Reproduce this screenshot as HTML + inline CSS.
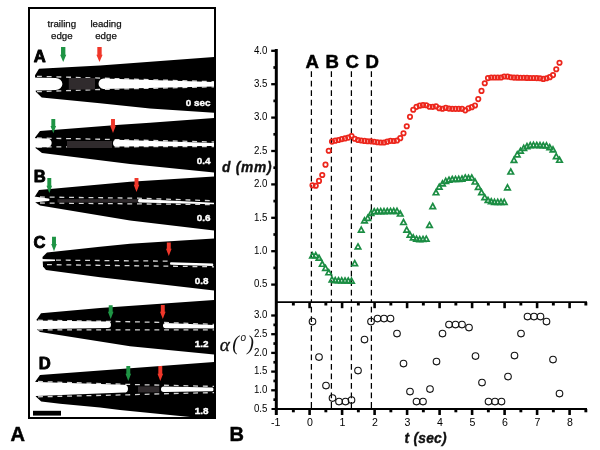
<!DOCTYPE html>
<html lang="en"><head><meta charset="utf-8"><title>Figure</title>
<style>html,body{margin:0;padding:0;background:#fff;}body{width:600px;height:450px;overflow:hidden;}svg{display:block;}text{font-family:"Liberation Sans",Arial,Helvetica,sans-serif;}</style>
</head><body>
<svg width="600" height="450" viewBox="0 0 600 450">
<rect x="0" y="0" width="600" height="450" fill="#ffffff"/>
<defs><clipPath id="fr"><rect x="30" y="9" width="184" height="408"/></clipPath></defs>
<g clip-path="url(#fr)">
<polygon fill="#000" points="35,75.3 39,68.7 100,65.5 214,57 216,57 216,112.8 214,112.8 150,108.6 100,103.3 41.7,97.5 35.8,91.8"/>
<polyline fill="none" points="37,76.3 100,78.1 214,81.7" stroke="#d4d4d4" stroke-width="1.3" stroke-dasharray="4.9 4.8"/>
<polyline fill="none" points="37,91.7 100,89.5 214,86.8" stroke="#d4d4d4" stroke-width="1.3" stroke-dasharray="4.9 4.8"/>
<path fill="#fff" d="M30,77.5L55.52,77.96A6.88,5.98 0 0 1 55.52,89.92L30,90.8Z"/>
<path fill="#fff" d="M103.54,78.48L214,82L216,82L216,86.4L214,86.4L103.54,88.95A5.24,5.24 0 0 1 103.54,78.48Z"/>
<rect x="68.8" y="78" width="26.2" height="11.5" fill="#302b2d"/>
<polygon fill="#000" points="35,137.5 40,131 120,124.8 150,122.8 214,118 216,118 216,172.6 214,172.6 130,164.1 100,160.2 42,153 35.5,148"/>
<polyline fill="none" points="37,138 113,139.5 214,142" stroke="#d4d4d4" stroke-width="1.3" stroke-dasharray="4.9 4.8"/>
<polyline fill="none" points="37,147 214,146.5" stroke="#d4d4d4" stroke-width="1.3" stroke-dasharray="4.9 4.8"/>
<path fill="#fff" d="M30,138L47.32,138.47A4.38,4.38 0 0 1 47.32,147.24L30,147.5Z"/>
<path fill="#fff" d="M116.35,139.8L214,143L216,143L216,146L214,146L116.35,146.5A3.35,3.35 0 0 1 116.35,139.8Z"/>
<rect x="67" y="141" width="45" height="7" fill="#302b2d"/>
<polygon fill="#000" points="35,196.3 39,190 130,181.8 214,176.4 216,176.4 216,230.6 214,230.6 130,220.4 40,205.5 35.5,202.6"/>
<polyline fill="none" points="40,197 138,198.2 214,200.8" stroke="#d4d4d4" stroke-width="1.3" stroke-dasharray="4.9 4.8"/>
<polyline fill="none" points="40,203 214,204.6" stroke="#d4d4d4" stroke-width="1.3" stroke-dasharray="4.9 4.8"/>
<path fill="#fff" d="M30,196L36,196.8L48.2,198.4A1.3,1.3 0 0 1 48.2,201.01L36,202.3L30,203Z"/>
<path fill="#fff" d="M139.05,199L214,202.7L216,202.7L216,204.2L214,204.2L139.05,202.5A1.05,1.75 0 0 1 139.05,199Z"/>
<rect x="57.5" y="199.2" width="80.5" height="3.3" fill="#302b2d"/>
<polygon fill="#000" points="42.5,257 47,252.5 100,246.8 130,243.8 214,238.6 216,238.6 216,290.5 214,290.5 100,277.3 46,270 43,266.5"/>
<polyline fill="none" points="56,260.1 172,261.2" stroke="#d4d4d4" stroke-width="1.3" stroke-dasharray="4.9 4.8"/>
<polyline fill="none" points="47,264.6 214,266.8" stroke="#d4d4d4" stroke-width="1.3" stroke-dasharray="4.9 4.8"/>
<path fill="#fff" d="M171,262.2L212.3,263.58A1,1.25 0 0 1 212.3,266.08L171,264.7A1,1.25 0 0 1 171,262.2Z"/>
<path fill="#fff" d="M42,259L55,259.5L55,261L42,261.6Z"/>
<polygon fill="#000" points="36.7,319.5 41,313.3 100,308 214,300 216,300 216,354.4 214,354.4 130,346.2 40,332 37.5,330"/>
<polyline fill="none" points="38,320.2 111,321.4 163,322.4 214,324.4" stroke="#d4d4d4" stroke-width="1.3" stroke-dasharray="4.9 4.8"/>
<polyline fill="none" points="38,329.8 214,329.8" stroke="#d4d4d4" stroke-width="1.3" stroke-dasharray="4.9 4.8"/>
<path fill="#fff" d="M30,320.6L107.8,321.6A3.2,3.2 0 0 1 107.8,328L30,329.2Z"/>
<path fill="#fff" d="M165.6,323L214,325L216,325L216,328.4L214,328.4L165.6,328.2A2.6,2.6 0 0 1 165.6,323Z"/>
<polygon fill="#000" points="35.3,381.6 40,375 214,362 216,362 216,420 214,420 190,417 120,409.9 100,407.6 60,403.7 41.2,401.6 35.8,396.6"/>
<polyline fill="none" points="38,381.5 128,384.4 214,386.4" stroke="#d4d4d4" stroke-width="1.3" stroke-dasharray="4.9 4.8"/>
<polyline fill="none" points="38,396.8 128,394.8 161,393.8 214,392.6" stroke="#d4d4d4" stroke-width="1.3" stroke-dasharray="4.9 4.8"/>
<path fill="#fff" d="M30,381.8L124.1,384.8A3.9,3.9 0 0 1 124.1,392.6L30,396.2Z"/>
<path fill="#fff" d="M163.75,386.5L212.38,387.49A1.12,1.86 0 0 1 212.38,391.21L163.75,392A2.75,2.75 0 0 1 163.75,386.5Z"/>
<rect x="138" y="386.4" width="21.2" height="6" fill="#302b2d"/>
</g>
<rect x="29" y="8" width="186" height="410" fill="none" stroke="#000" stroke-width="2"/>
<rect x="33" y="410.8" width="28" height="4.8" fill="#000"/>
<polygon fill="#1e9444" points="61.03,47 65.37,47 65.37,54.8 66.3,54.8 63.2,62 60.1,54.8 61.03,54.8"/>
<polygon fill="#f0372a" points="97.33,47 101.67,47 101.67,54.8 102.6,54.8 99.5,62 96.4,54.8 97.33,54.8"/>
<polygon fill="#1e9444" points="51.34,119 55.26,119 55.26,126 56.1,126 53.3,133.2 50.5,126 51.34,126"/>
<polygon fill="#f0372a" points="111.04,119 114.96,119 114.96,125.8 115.8,125.8 113,133 110.2,125.8 111.04,125.8"/>
<polygon fill="#1e9444" points="47.34,178 51.26,178 51.26,185.8 52.1,185.8 49.3,193 46.5,185.8 47.34,185.8"/>
<polygon fill="#f0372a" points="134.54,178 138.46,178 138.46,184.8 139.3,184.8 136.5,192 133.7,184.8 134.54,184.8"/>
<polygon fill="#1e9444" points="52.04,236.7 55.96,236.7 55.96,244.1 56.8,244.1 54,251.3 51.2,244.1 52.04,244.1"/>
<polygon fill="#f0372a" points="166.84,242.4 170.76,242.4 170.76,248.8 171.6,248.8 168.8,256 166,248.8 166.84,248.8"/>
<polygon fill="#1e9444" points="108.74,305.3 112.66,305.3 112.66,311.8 113.5,311.8 110.7,319 107.9,311.8 108.74,311.8"/>
<polygon fill="#f0372a" points="160.84,305 164.76,305 164.76,311.8 165.6,311.8 162.8,319 160,311.8 160.84,311.8"/>
<polygon fill="#1e9444" points="126.34,366 130.26,366 130.26,373.8 131.1,373.8 128.3,381 125.5,373.8 126.34,373.8"/>
<polygon fill="#f0372a" points="158.34,366 162.26,366 162.26,373.8 163.1,373.8 160.3,381 157.5,373.8 158.34,373.8"/>
<text x="61.8" y="27.3" font-size="9.7" font-weight="normal" font-style="normal" fill="#111" text-anchor="middle" stroke="#111" stroke-width="0.25">trailing</text>
<text x="61.8" y="39" font-size="9.7" font-weight="normal" font-style="normal" fill="#111" text-anchor="middle" stroke="#111" stroke-width="0.25">edge</text>
<text x="106" y="27.3" font-size="9.7" font-weight="normal" font-style="normal" fill="#111" text-anchor="middle" stroke="#111" stroke-width="0.25">leading</text>
<text x="106" y="39" font-size="9.7" font-weight="normal" font-style="normal" fill="#111" text-anchor="middle" stroke="#111" stroke-width="0.25">edge</text>
<text x="33.7" y="62.3" font-size="16.6" font-weight="bold" font-style="normal" fill="#000" text-anchor="start" stroke="#000" stroke-width="0.9" stroke-linejoin="round">A</text>
<text x="33.7" y="182.3" font-size="16.6" font-weight="bold" font-style="normal" fill="#000" text-anchor="start" stroke="#000" stroke-width="0.9" stroke-linejoin="round">B</text>
<text x="33.6" y="247.9" font-size="16.6" font-weight="bold" font-style="normal" fill="#000" text-anchor="start" stroke="#000" stroke-width="0.9" stroke-linejoin="round">C</text>
<text x="38.8" y="368.9" font-size="16.6" font-weight="bold" font-style="normal" fill="#000" text-anchor="start" stroke="#000" stroke-width="0.9" stroke-linejoin="round">D</text>
<text x="210.5" y="105.6" font-size="9.9" font-weight="bold" font-style="normal" fill="#fff" text-anchor="end" stroke="#fff" stroke-width="0.4">0 sec</text>
<text x="210.5" y="164" font-size="9.9" font-weight="bold" font-style="normal" fill="#fff" text-anchor="end" stroke="#fff" stroke-width="0.4">0.4</text>
<text x="210.5" y="221.2" font-size="9.9" font-weight="bold" font-style="normal" fill="#fff" text-anchor="end" stroke="#fff" stroke-width="0.4">0.6</text>
<text x="208.5" y="283.6" font-size="9.9" font-weight="bold" font-style="normal" fill="#fff" text-anchor="end" stroke="#fff" stroke-width="0.4">0.8</text>
<text x="208.5" y="347" font-size="9.9" font-weight="bold" font-style="normal" fill="#fff" text-anchor="end" stroke="#fff" stroke-width="0.4">1.2</text>
<text x="208.5" y="413.6" font-size="9.9" font-weight="bold" font-style="normal" fill="#fff" text-anchor="end" stroke="#fff" stroke-width="0.4">1.8</text>
<text x="10.4" y="440.5" font-size="20" font-weight="bold" font-style="normal" fill="#000" text-anchor="start" stroke="#000" stroke-width="0.5">A</text>
<text x="229.4" y="440.5" font-size="20" font-weight="bold" font-style="normal" fill="#000" text-anchor="start" stroke="#000" stroke-width="0.5">B</text>
<line x1="276.3" y1="49" x2="276.3" y2="415" stroke="#000" stroke-width="3"/>
<line x1="275" y1="302.2" x2="587" y2="302.2" stroke="#000" stroke-width="1.8"/>
<line x1="271.5" y1="409" x2="587" y2="409" stroke="#000" stroke-width="2"/>
<line x1="271.2" y1="284.6" x2="276.3" y2="284.6" stroke="#000" stroke-width="2.3"/>
<text transform="translate(267.4,287.4) scale(0.9,1)" font-size="10.8" font-weight="normal" font-style="normal" fill="#000" text-anchor="end">0.5</text>
<line x1="273.4" y1="267.9" x2="276.3" y2="267.9" stroke="#000" stroke-width="2.7"/>
<line x1="271.2" y1="251.2" x2="276.3" y2="251.2" stroke="#000" stroke-width="2.3"/>
<text transform="translate(267.4,254) scale(0.9,1)" font-size="10.8" font-weight="normal" font-style="normal" fill="#000" text-anchor="end">1.0</text>
<line x1="273.4" y1="234.5" x2="276.3" y2="234.5" stroke="#000" stroke-width="2.7"/>
<line x1="271.2" y1="217.8" x2="276.3" y2="217.8" stroke="#000" stroke-width="2.3"/>
<text transform="translate(267.4,220.6) scale(0.9,1)" font-size="10.8" font-weight="normal" font-style="normal" fill="#000" text-anchor="end">1.5</text>
<line x1="273.4" y1="201.1" x2="276.3" y2="201.1" stroke="#000" stroke-width="2.7"/>
<line x1="271.2" y1="184.4" x2="276.3" y2="184.4" stroke="#000" stroke-width="2.3"/>
<text transform="translate(267.4,187.2) scale(0.9,1)" font-size="10.8" font-weight="normal" font-style="normal" fill="#000" text-anchor="end">2.0</text>
<line x1="273.4" y1="167.7" x2="276.3" y2="167.7" stroke="#000" stroke-width="2.7"/>
<line x1="271.2" y1="151" x2="276.3" y2="151" stroke="#000" stroke-width="2.3"/>
<text transform="translate(267.4,153.8) scale(0.9,1)" font-size="10.8" font-weight="normal" font-style="normal" fill="#000" text-anchor="end">2.5</text>
<line x1="273.4" y1="134.3" x2="276.3" y2="134.3" stroke="#000" stroke-width="2.7"/>
<line x1="271.2" y1="117.6" x2="276.3" y2="117.6" stroke="#000" stroke-width="2.3"/>
<text transform="translate(267.4,120.4) scale(0.9,1)" font-size="10.8" font-weight="normal" font-style="normal" fill="#000" text-anchor="end">3.0</text>
<line x1="273.4" y1="100.9" x2="276.3" y2="100.9" stroke="#000" stroke-width="2.7"/>
<line x1="271.2" y1="84.2" x2="276.3" y2="84.2" stroke="#000" stroke-width="2.3"/>
<text transform="translate(267.4,87) scale(0.9,1)" font-size="10.8" font-weight="normal" font-style="normal" fill="#000" text-anchor="end">3.5</text>
<line x1="273.4" y1="67.5" x2="276.3" y2="67.5" stroke="#000" stroke-width="2.7"/>
<line x1="271.2" y1="50.8" x2="276.3" y2="50.8" stroke="#000" stroke-width="2.3"/>
<text transform="translate(267.4,53.6) scale(0.9,1)" font-size="10.8" font-weight="normal" font-style="normal" fill="#000" text-anchor="end">4.0</text>
<text transform="translate(267.4,411.7) scale(0.9,1)" font-size="10.8" font-weight="normal" font-style="normal" fill="#000" text-anchor="end">0.5</text>
<line x1="273.4" y1="399.65" x2="276.3" y2="399.65" stroke="#000" stroke-width="2.7"/>
<line x1="271.2" y1="390.3" x2="276.3" y2="390.3" stroke="#000" stroke-width="2.3"/>
<text transform="translate(267.4,393) scale(0.9,1)" font-size="10.8" font-weight="normal" font-style="normal" fill="#000" text-anchor="end">1.0</text>
<line x1="273.4" y1="380.95" x2="276.3" y2="380.95" stroke="#000" stroke-width="2.7"/>
<line x1="271.2" y1="371.6" x2="276.3" y2="371.6" stroke="#000" stroke-width="2.3"/>
<text transform="translate(267.4,374.3) scale(0.9,1)" font-size="10.8" font-weight="normal" font-style="normal" fill="#000" text-anchor="end">1.5</text>
<line x1="273.4" y1="362.25" x2="276.3" y2="362.25" stroke="#000" stroke-width="2.7"/>
<line x1="271.2" y1="352.9" x2="276.3" y2="352.9" stroke="#000" stroke-width="2.3"/>
<text transform="translate(267.4,355.6) scale(0.9,1)" font-size="10.8" font-weight="normal" font-style="normal" fill="#000" text-anchor="end">2.0</text>
<line x1="273.4" y1="343.55" x2="276.3" y2="343.55" stroke="#000" stroke-width="2.7"/>
<line x1="271.2" y1="334.2" x2="276.3" y2="334.2" stroke="#000" stroke-width="2.3"/>
<text transform="translate(267.4,336.9) scale(0.9,1)" font-size="10.8" font-weight="normal" font-style="normal" fill="#000" text-anchor="end">2.5</text>
<line x1="273.4" y1="324.85" x2="276.3" y2="324.85" stroke="#000" stroke-width="2.7"/>
<line x1="271.2" y1="315.5" x2="276.3" y2="315.5" stroke="#000" stroke-width="2.3"/>
<text transform="translate(267.4,318.2) scale(0.9,1)" font-size="10.8" font-weight="normal" font-style="normal" fill="#000" text-anchor="end">3.0</text>
<text transform="translate(275.7,426.1) scale(0.93,1)" font-size="11.4" font-weight="normal" font-style="normal" fill="#000" text-anchor="middle">-1</text>
<line x1="293.35" y1="409" x2="293.35" y2="412.3" stroke="#000" stroke-width="2.9"/>
<line x1="293.35" y1="302.2" x2="293.35" y2="305.5" stroke="#000" stroke-width="2.9"/>
<line x1="309.6" y1="409" x2="309.6" y2="415" stroke="#000" stroke-width="2.6"/>
<line x1="309.6" y1="302.2" x2="309.6" y2="308.2" stroke="#000" stroke-width="2.6"/>
<text transform="translate(309.9,426.1) scale(0.93,1)" font-size="11.4" font-weight="normal" font-style="normal" fill="#000" text-anchor="middle">0</text>
<line x1="325.85" y1="409" x2="325.85" y2="412.3" stroke="#000" stroke-width="2.9"/>
<line x1="325.85" y1="302.2" x2="325.85" y2="305.5" stroke="#000" stroke-width="2.9"/>
<line x1="342.1" y1="409" x2="342.1" y2="415" stroke="#000" stroke-width="2.6"/>
<line x1="342.1" y1="302.2" x2="342.1" y2="308.2" stroke="#000" stroke-width="2.6"/>
<text transform="translate(342.4,426.1) scale(0.93,1)" font-size="11.4" font-weight="normal" font-style="normal" fill="#000" text-anchor="middle">1</text>
<line x1="358.35" y1="409" x2="358.35" y2="412.3" stroke="#000" stroke-width="2.9"/>
<line x1="358.35" y1="302.2" x2="358.35" y2="305.5" stroke="#000" stroke-width="2.9"/>
<line x1="374.6" y1="409" x2="374.6" y2="415" stroke="#000" stroke-width="2.6"/>
<line x1="374.6" y1="302.2" x2="374.6" y2="308.2" stroke="#000" stroke-width="2.6"/>
<text transform="translate(374.9,426.1) scale(0.93,1)" font-size="11.4" font-weight="normal" font-style="normal" fill="#000" text-anchor="middle">2</text>
<line x1="390.85" y1="409" x2="390.85" y2="412.3" stroke="#000" stroke-width="2.9"/>
<line x1="390.85" y1="302.2" x2="390.85" y2="305.5" stroke="#000" stroke-width="2.9"/>
<line x1="407.1" y1="409" x2="407.1" y2="415" stroke="#000" stroke-width="2.6"/>
<line x1="407.1" y1="302.2" x2="407.1" y2="308.2" stroke="#000" stroke-width="2.6"/>
<text transform="translate(407.4,426.1) scale(0.93,1)" font-size="11.4" font-weight="normal" font-style="normal" fill="#000" text-anchor="middle">3</text>
<line x1="423.35" y1="409" x2="423.35" y2="412.3" stroke="#000" stroke-width="2.9"/>
<line x1="423.35" y1="302.2" x2="423.35" y2="305.5" stroke="#000" stroke-width="2.9"/>
<line x1="439.6" y1="409" x2="439.6" y2="415" stroke="#000" stroke-width="2.6"/>
<line x1="439.6" y1="302.2" x2="439.6" y2="308.2" stroke="#000" stroke-width="2.6"/>
<text transform="translate(439.9,426.1) scale(0.93,1)" font-size="11.4" font-weight="normal" font-style="normal" fill="#000" text-anchor="middle">4</text>
<line x1="455.85" y1="409" x2="455.85" y2="412.3" stroke="#000" stroke-width="2.9"/>
<line x1="455.85" y1="302.2" x2="455.85" y2="305.5" stroke="#000" stroke-width="2.9"/>
<line x1="472.1" y1="409" x2="472.1" y2="415" stroke="#000" stroke-width="2.6"/>
<line x1="472.1" y1="302.2" x2="472.1" y2="308.2" stroke="#000" stroke-width="2.6"/>
<text transform="translate(472.4,426.1) scale(0.93,1)" font-size="11.4" font-weight="normal" font-style="normal" fill="#000" text-anchor="middle">5</text>
<line x1="488.35" y1="409" x2="488.35" y2="412.3" stroke="#000" stroke-width="2.9"/>
<line x1="488.35" y1="302.2" x2="488.35" y2="305.5" stroke="#000" stroke-width="2.9"/>
<line x1="504.6" y1="409" x2="504.6" y2="415" stroke="#000" stroke-width="2.6"/>
<line x1="504.6" y1="302.2" x2="504.6" y2="308.2" stroke="#000" stroke-width="2.6"/>
<text transform="translate(504.9,426.1) scale(0.93,1)" font-size="11.4" font-weight="normal" font-style="normal" fill="#000" text-anchor="middle">6</text>
<line x1="520.85" y1="409" x2="520.85" y2="412.3" stroke="#000" stroke-width="2.9"/>
<line x1="520.85" y1="302.2" x2="520.85" y2="305.5" stroke="#000" stroke-width="2.9"/>
<line x1="537.1" y1="409" x2="537.1" y2="415" stroke="#000" stroke-width="2.6"/>
<line x1="537.1" y1="302.2" x2="537.1" y2="308.2" stroke="#000" stroke-width="2.6"/>
<text transform="translate(537.4,426.1) scale(0.93,1)" font-size="11.4" font-weight="normal" font-style="normal" fill="#000" text-anchor="middle">7</text>
<line x1="553.35" y1="409" x2="553.35" y2="412.3" stroke="#000" stroke-width="2.9"/>
<line x1="553.35" y1="302.2" x2="553.35" y2="305.5" stroke="#000" stroke-width="2.9"/>
<line x1="569.6" y1="409" x2="569.6" y2="415" stroke="#000" stroke-width="2.6"/>
<line x1="569.6" y1="302.2" x2="569.6" y2="308.2" stroke="#000" stroke-width="2.6"/>
<text transform="translate(569.9,426.1) scale(0.93,1)" font-size="11.4" font-weight="normal" font-style="normal" fill="#000" text-anchor="middle">8</text>
<line x1="585.85" y1="409" x2="585.85" y2="412.3" stroke="#000" stroke-width="2.9"/>
<line x1="585.85" y1="302.2" x2="585.85" y2="305.5" stroke="#000" stroke-width="2.9"/>
<text x="221.9" y="171.6" font-size="13.8" font-weight="bold" font-style="italic" fill="#111" text-anchor="start" stroke="#111" stroke-width="0.35" letter-spacing="0.75">d (mm)</text>
<text x="404.5" y="443" font-size="13.9" font-weight="bold" font-style="italic" fill="#111" text-anchor="start" stroke="#111" stroke-width="0.35" letter-spacing="0.2">t (sec)</text>
<text x="219.8" y="350.6" font-size="19.2" font-style="italic" fill="#111" stroke="#111" stroke-width="0.3" style="font-family:'Liberation Serif','DejaVu Serif',serif">α</text>
<text x="232.2" y="349.9" font-size="20" font-style="italic" fill="#111" style="font-family:'Liberation Serif','DejaVu Serif',serif">(</text>
<text x="240.4" y="341.1" font-size="10" font-style="italic" fill="#111">o</text>
<text x="247.2" y="349.9" font-size="20" font-style="italic" fill="#111" style="font-family:'Liberation Serif','DejaVu Serif',serif">)</text>
<line x1="311.4" y1="71.3" x2="311.4" y2="302" stroke="#000" stroke-width="1.25" stroke-dasharray="5.8 3.7"/>
<line x1="311.4" y1="302" x2="311.4" y2="409" stroke="#000" stroke-width="1.25" stroke-dasharray="5.8 3.74" stroke-dashoffset="4.84"/>
<text x="312.2" y="68" font-size="18.6" font-weight="bold" font-style="normal" fill="#000" text-anchor="middle" stroke="#000" stroke-width="0.5">A</text>
<line x1="331.4" y1="71.3" x2="331.4" y2="302" stroke="#000" stroke-width="1.25" stroke-dasharray="5.8 3.7"/>
<line x1="331.4" y1="302" x2="331.4" y2="409" stroke="#000" stroke-width="1.25" stroke-dasharray="5.8 3.74" stroke-dashoffset="4.84"/>
<text x="332.2" y="68" font-size="18.6" font-weight="bold" font-style="normal" fill="#000" text-anchor="middle" stroke="#000" stroke-width="0.5">B</text>
<line x1="351.4" y1="71.3" x2="351.4" y2="302" stroke="#000" stroke-width="1.25" stroke-dasharray="5.8 3.7"/>
<line x1="351.4" y1="302" x2="351.4" y2="409" stroke="#000" stroke-width="1.25" stroke-dasharray="5.8 3.74" stroke-dashoffset="4.84"/>
<text x="352.2" y="68" font-size="18.6" font-weight="bold" font-style="normal" fill="#000" text-anchor="middle" stroke="#000" stroke-width="0.5">C</text>
<line x1="371.4" y1="71.3" x2="371.4" y2="302" stroke="#000" stroke-width="1.25" stroke-dasharray="5.8 3.7"/>
<line x1="371.4" y1="302" x2="371.4" y2="409" stroke="#000" stroke-width="1.25" stroke-dasharray="5.8 3.74" stroke-dashoffset="4.84"/>
<text x="372.2" y="68" font-size="18.6" font-weight="bold" font-style="normal" fill="#000" text-anchor="middle" stroke="#000" stroke-width="0.5">D</text>
<g fill="none" stroke="#ec261c" stroke-width="1.75">
<circle cx="312.5" cy="185.36" r="2.2"/>
<circle cx="315.75" cy="185.77" r="2.2"/>
<circle cx="319" cy="180.9" r="2.2"/>
<circle cx="322.25" cy="174.97" r="2.2"/>
<circle cx="325.5" cy="164.63" r="2.2"/>
<circle cx="328.75" cy="150.71" r="2.2"/>
<circle cx="332" cy="141.57" r="2.2"/>
<circle cx="335.25" cy="140.65" r="2.2"/>
<circle cx="338.5" cy="140" r="2.2"/>
<circle cx="341.75" cy="139.12" r="2.2"/>
<circle cx="345" cy="138.43" r="2.2"/>
<circle cx="348.25" cy="137.55" r="2.2"/>
<circle cx="351.5" cy="135.95" r="2.2"/>
<circle cx="354.75" cy="138.7" r="2.2"/>
<circle cx="358" cy="140.03" r="2.2"/>
<circle cx="361.25" cy="140.47" r="2.2"/>
<circle cx="364.5" cy="140.9" r="2.2"/>
<circle cx="367.75" cy="141.22" r="2.2"/>
<circle cx="371" cy="141.3" r="2.2"/>
<circle cx="374.25" cy="141.75" r="2.2"/>
<circle cx="377.5" cy="142.23" r="2.2"/>
<circle cx="380.75" cy="142.48" r="2.2"/>
<circle cx="384" cy="142.5" r="2.2"/>
<circle cx="387.25" cy="141.68" r="2.2"/>
<circle cx="390.5" cy="140.84" r="2.2"/>
<circle cx="393.75" cy="140.95" r="2.2"/>
<circle cx="397" cy="140.5" r="2.2"/>
<circle cx="400.25" cy="138.14" r="2.2"/>
<circle cx="403.5" cy="133.25" r="2.2"/>
<circle cx="406.75" cy="126.22" r="2.2"/>
<circle cx="410" cy="116.84" r="2.2"/>
<circle cx="413.25" cy="109.75" r="2.2"/>
<circle cx="416.5" cy="106.8" r="2.2"/>
<circle cx="419.75" cy="105.66" r="2.2"/>
<circle cx="423" cy="105.1" r="2.2"/>
<circle cx="426.25" cy="105.22" r="2.2"/>
<circle cx="429.5" cy="106.75" r="2.2"/>
<circle cx="432.75" cy="106.8" r="2.2"/>
<circle cx="436" cy="106.33" r="2.2"/>
<circle cx="439.25" cy="108.21" r="2.2"/>
<circle cx="442.5" cy="108.76" r="2.2"/>
<circle cx="445.75" cy="107.88" r="2.2"/>
<circle cx="449" cy="108.61" r="2.2"/>
<circle cx="452.25" cy="108.8" r="2.2"/>
<circle cx="455.5" cy="108.8" r="2.2"/>
<circle cx="458.75" cy="108.8" r="2.2"/>
<circle cx="462" cy="108.8" r="2.2"/>
<circle cx="465.25" cy="110.33" r="2.2"/>
<circle cx="468.5" cy="108.3" r="2.2"/>
<circle cx="471.75" cy="107.18" r="2.2"/>
<circle cx="475" cy="105.51" r="2.2"/>
<circle cx="478.25" cy="99.07" r="2.2"/>
<circle cx="481.5" cy="90.9" r="2.2"/>
<circle cx="484.75" cy="83.21" r="2.2"/>
<circle cx="488" cy="78.11" r="2.2"/>
<circle cx="491.25" cy="77.5" r="2.2"/>
<circle cx="494.5" cy="77.5" r="2.2"/>
<circle cx="497.75" cy="77.5" r="2.2"/>
<circle cx="501" cy="77.5" r="2.2"/>
<circle cx="504.25" cy="76.54" r="2.2"/>
<circle cx="507.5" cy="76.57" r="2.2"/>
<circle cx="510.75" cy="77.29" r="2.2"/>
<circle cx="514" cy="77.55" r="2.2"/>
<circle cx="517.25" cy="77.63" r="2.2"/>
<circle cx="520.5" cy="77.71" r="2.2"/>
<circle cx="523.75" cy="77.79" r="2.2"/>
<circle cx="527" cy="77.88" r="2.2"/>
<circle cx="530.25" cy="77.96" r="2.2"/>
<circle cx="533.5" cy="78.04" r="2.2"/>
<circle cx="536.75" cy="78.12" r="2.2"/>
<circle cx="540" cy="78.2" r="2.2"/>
<circle cx="543.25" cy="78.89" r="2.2"/>
<circle cx="546.5" cy="78.29" r="2.2"/>
<circle cx="549.75" cy="77.17" r="2.2"/>
<circle cx="553" cy="75.07" r="2.2"/>
<circle cx="556.25" cy="69.29" r="2.2"/>
<circle cx="559.5" cy="62.71" r="2.2"/>
</g>
<g fill="none" stroke="#1b8d43" stroke-width="1.7" stroke-linejoin="miter">
<path d="M312.5,252.81L315.25,257.81L309.75,257.81Z"/>
<path d="M315.75,252.6L318.5,257.6L313,257.6Z"/>
<path d="M319,255.2L321.75,260.2L316.25,260.2Z"/>
<path d="M322.25,261.26L325,266.26L319.5,266.26Z"/>
<path d="M325.5,265.4L328.25,270.4L322.75,270.4Z"/>
<path d="M328.75,269.73L331.5,274.73L326,274.73Z"/>
<path d="M332,276.79L334.75,281.79L329.25,281.79Z"/>
<path d="M335.25,277.63L338,282.63L332.5,282.63Z"/>
<path d="M338.5,277.72L341.25,282.72L335.75,282.72Z"/>
<path d="M341.75,277.81L344.5,282.81L339,282.81Z"/>
<path d="M345,277.9L347.75,282.9L342.25,282.9Z"/>
<path d="M348.25,277.98L351,282.98L345.5,282.98Z"/>
<path d="M351.5,278.07L354.25,283.07L348.75,283.07Z"/>
<path d="M354.75,260.63L357.5,265.63L352,265.63Z"/>
<path d="M358,243.9L360.75,248.9L355.25,248.9Z"/>
<path d="M361.25,227.11L364,232.11L358.5,232.11Z"/>
<path d="M364.5,217.82L367.25,222.82L361.75,222.82Z"/>
<path d="M367.75,215.29L370.5,220.29L365,220.29Z"/>
<path d="M371,210.4L373.75,215.4L368.25,215.4Z"/>
<path d="M374.25,208.77L377,213.77L371.5,213.77Z"/>
<path d="M377.5,208.7L380.25,213.7L374.75,213.7Z"/>
<path d="M380.75,208.63L383.5,213.63L378,213.63Z"/>
<path d="M384,208.57L386.75,213.57L381.25,213.57Z"/>
<path d="M387.25,208.5L390,213.5L384.5,213.5Z"/>
<path d="M390.5,208.43L393.25,213.43L387.75,213.43Z"/>
<path d="M393.75,208.37L396.5,213.37L391,213.37Z"/>
<path d="M397,208.3L399.75,213.3L394.25,213.3Z"/>
<path d="M400.25,211L403,216L397.5,216Z"/>
<path d="M403.5,219.5L406.25,224.5L400.75,224.5Z"/>
<path d="M406.75,227.1L409.5,232.1L404,232.1Z"/>
<path d="M410,232.1L412.75,237.1L407.25,237.1Z"/>
<path d="M413.25,234.8L416,239.8L410.5,239.8Z"/>
<path d="M416.5,236.2L419.25,241.2L413.75,241.2Z"/>
<path d="M419.75,236.6L422.5,241.6L417,241.6Z"/>
<path d="M423,236.4L425.75,241.4L420.25,241.4Z"/>
<path d="M426.25,236.2L429,241.2L423.5,241.2Z"/>
<path d="M429.5,222.42L432.25,227.42L426.75,227.42Z"/>
<path d="M432.75,203.53L435.5,208.53L430,208.53Z"/>
<path d="M436,189.73L438.75,194.73L433.25,194.73Z"/>
<path d="M439.25,184.19L442,189.19L436.5,189.19Z"/>
<path d="M442.5,180.8L445.25,185.8L439.75,185.8Z"/>
<path d="M445.75,178.3L448.5,183.3L443,183.3Z"/>
<path d="M449,177.15L451.75,182.15L446.25,182.15Z"/>
<path d="M452.25,176.49L455,181.49L449.5,181.49Z"/>
<path d="M455.5,176.39L458.25,181.39L452.75,181.39Z"/>
<path d="M458.75,176.29L461.5,181.29L456,181.29Z"/>
<path d="M462,176.03L464.75,181.03L459.25,181.03Z"/>
<path d="M465.25,174.95L468,179.95L462.5,179.95Z"/>
<path d="M468.5,175.24L471.25,180.24L465.75,180.24Z"/>
<path d="M471.75,175.02L474.5,180.02L469,180.02Z"/>
<path d="M475,178.98L477.75,183.98L472.25,183.98Z"/>
<path d="M478.25,184.41L481,189.41L475.5,189.41Z"/>
<path d="M481.5,189.63L484.25,194.63L478.75,194.63Z"/>
<path d="M484.75,194.69L487.5,199.69L482,199.69Z"/>
<path d="M488,197.44L490.75,202.44L485.25,202.44Z"/>
<path d="M491.25,198.76L494,203.76L488.5,203.76Z"/>
<path d="M494.5,199.3L497.25,204.3L491.75,204.3Z"/>
<path d="M497.75,199.3L500.5,204.3L495,204.3Z"/>
<path d="M501,199.3L503.75,204.3L498.25,204.3Z"/>
<path d="M504.25,199.3L507,204.3L501.5,204.3Z"/>
<path d="M507.5,184.81L510.25,189.81L504.75,189.81Z"/>
<path d="M510.75,169.02L513.5,174.02L508,174.02Z"/>
<path d="M514,157.3L516.75,162.3L511.25,162.3Z"/>
<path d="M517.25,151.88L520,156.88L514.5,156.88Z"/>
<path d="M520.5,148.14L523.25,153.14L517.75,153.14Z"/>
<path d="M523.75,145.33L526.5,150.33L521,150.33Z"/>
<path d="M527,143.55L529.75,148.55L524.25,148.55Z"/>
<path d="M530.25,142.59L533,147.59L527.5,147.59Z"/>
<path d="M533.5,142.36L536.25,147.36L530.75,147.36Z"/>
<path d="M536.75,142.49L539.5,147.49L534,147.49Z"/>
<path d="M540,142.62L542.75,147.62L537.25,147.62Z"/>
<path d="M543.25,142.75L546,147.75L540.5,147.75Z"/>
<path d="M546.5,142.88L549.25,147.88L543.75,147.88Z"/>
<path d="M549.75,144.55L552.5,149.55L547,149.55Z"/>
<path d="M553,146.8L555.75,151.8L550.25,151.8Z"/>
<path d="M556.25,153.57L559,158.57L553.5,158.57Z"/>
<path d="M559.5,157.27L562.25,162.27L556.75,162.27Z"/>
</g>
<g fill="none" stroke="#111" stroke-width="1.1">
<circle cx="312.5" cy="321.55" r="3.3"/>
<circle cx="319" cy="357.05" r="3.3"/>
<circle cx="326" cy="385.55" r="3.3"/>
<circle cx="332.5" cy="398.05" r="3.3"/>
<circle cx="339" cy="401.55" r="3.3"/>
<circle cx="345.5" cy="401.55" r="3.3"/>
<circle cx="351.5" cy="400.05" r="3.3"/>
<circle cx="358" cy="370.55" r="3.3"/>
<circle cx="364.5" cy="339.55" r="3.3"/>
<circle cx="371" cy="321.55" r="3.3"/>
<circle cx="377.5" cy="318.55" r="3.3"/>
<circle cx="384" cy="318.55" r="3.3"/>
<circle cx="390.5" cy="318.55" r="3.3"/>
<circle cx="397" cy="333.55" r="3.3"/>
<circle cx="403.5" cy="363.55" r="3.3"/>
<circle cx="410" cy="391.55" r="3.3"/>
<circle cx="416.5" cy="401.55" r="3.3"/>
<circle cx="423" cy="401.55" r="3.3"/>
<circle cx="430" cy="389.05" r="3.3"/>
<circle cx="436.5" cy="361.55" r="3.3"/>
<circle cx="442.5" cy="333.55" r="3.3"/>
<circle cx="449" cy="324.55" r="3.3"/>
<circle cx="455.5" cy="324.55" r="3.3"/>
<circle cx="462" cy="324.55" r="3.3"/>
<circle cx="469" cy="327.55" r="3.3"/>
<circle cx="475.5" cy="356.05" r="3.3"/>
<circle cx="482" cy="382.55" r="3.3"/>
<circle cx="488.5" cy="401.55" r="3.3"/>
<circle cx="495" cy="401.55" r="3.3"/>
<circle cx="501.5" cy="401.55" r="3.3"/>
<circle cx="508" cy="376.55" r="3.3"/>
<circle cx="514.5" cy="355.55" r="3.3"/>
<circle cx="521" cy="333.55" r="3.3"/>
<circle cx="527.5" cy="316.55" r="3.3"/>
<circle cx="534" cy="316.55" r="3.3"/>
<circle cx="540.5" cy="316.55" r="3.3"/>
<circle cx="546.5" cy="321.55" r="3.3"/>
<circle cx="553" cy="359.55" r="3.3"/>
<circle cx="559.5" cy="393.55" r="3.3"/>
</g>
</svg>
</body></html>
